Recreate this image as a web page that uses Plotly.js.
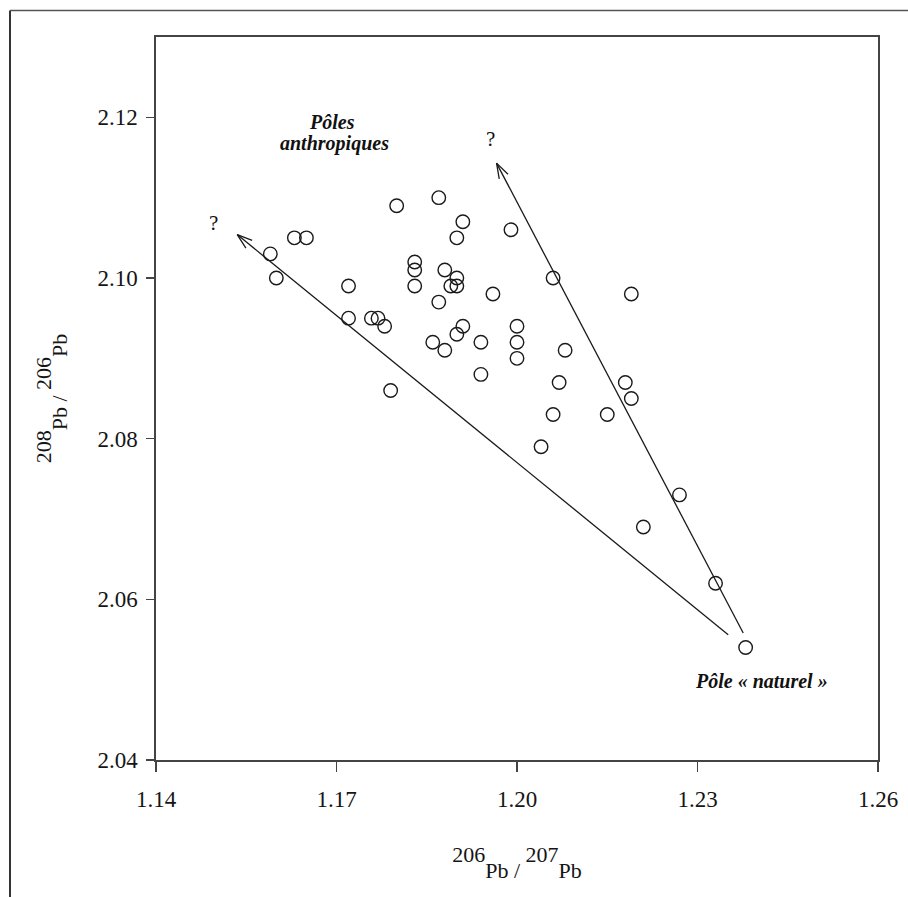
<!DOCTYPE html>
<html><head><meta charset="utf-8">
<script src="https://cdn.plot.ly/plotly-3.0.1.min.js"></script>
<style>html,body{margin:0;padding:0;background:#fff;}</style>
</head><body>
<div id="chart" style="width:908px;height:897px;"></div>
<script>
// 206Pb/207Pb (x) and 208Pb/206Pb (y) of the samples
const ratio206_207 = [1.159,1.160,1.163,1.165,1.172,1.172,1.1758,1.1769,1.178,1.179,1.180,1.183,1.183,1.183,1.186,1.187,1.187,1.188,1.188,1.189,1.190,1.190,1.190,1.190,1.191,1.191,1.194,1.194,1.196,1.199,1.200,1.200,1.200,1.204,1.206,1.206,1.207,1.208,1.215,1.218,1.219,1.219,1.221,1.227,1.233,1.238];
const ratio208_206 = [2.103,2.100,2.105,2.105,2.099,2.095,2.095,2.095,2.094,2.086,2.109,2.102,2.101,2.099,2.092,2.110,2.097,2.101,2.091,2.099,2.105,2.100,2.099,2.093,2.107,2.094,2.092,2.088,2.098,2.106,2.094,2.092,2.090,2.079,2.100,2.083,2.087,2.091,2.083,2.087,2.085,2.098,2.069,2.073,2.062,2.054];

const xTicks = [1.14,1.17,1.20,1.23,1.26];
const xTickText = ['1.14','1.17','1.20','1.23','1.26'];
const yTicks = [2.04,2.06,2.08,2.10,2.12];
const yTickText = ['2.04','2.06','2.08','2.10','2.12'];
const xRange = [1.14,1.26];
const yRange = [2.04,2.13];

// mixing arrows: from natural pole towards anthropogenic poles
const arrowTailX = [1.2351,1.2376];
const arrowTailY = [2.0556,2.0558];
const arrowHeadX = [1.1535,1.1966];
const arrowHeadY = [2.1054,2.1143];

// text labels
const boldLabels = ['Pôles','anthropiques','Pôle « naturel »'];
const boldLabelX = [1.1692,1.1696,1.2406];
const boldLabelY = [2.1194,2.1168,2.0498];
const qLabels = ['?','?'];
const qLabelX = [1.1496,1.1956];
const qLabelY = [2.1068,2.1173];

const M = {l:156, r:30, t:37, b:137};
const W = 908, H = 897;
const plotW = W - M.l - M.r, plotH = H - M.t - M.b;
const sx = plotW/(xRange[1]-xRange[0]);
const sy = plotH/(yRange[1]-yRange[0]);

const SERIF = '"Liberation Serif", "Times New Roman", Times, serif';
const ink = '#1a1a1a';
const traces = [];
// arrows (shaft + open head)
for (let i=0;i<arrowTailX.length;i++){
  const hx = arrowHeadX[i], hy = arrowHeadY[i];
  const dxp = (arrowTailX[i]-hx)*sx, dyp = (arrowTailY[i]-hy)*sy;
  const a = Math.atan2(dyp,dxp), h = 18*Math.PI/180, L = 16;
  const a1x = hx + L*Math.cos(a+h)/sx, a1y = hy + L*Math.sin(a+h)/sy;
  const a2x = hx + L*Math.cos(a-h)/sx, a2y = hy + L*Math.sin(a-h)/sy;
  traces.push({
    type:'scatter', mode:'lines',
    x:[arrowTailX[i],hx,null,a1x,hx,a2x],
    y:[arrowTailY[i],hy,null,a1y,hy,a2y],
    line:{color:ink,width:1.3}, hoverinfo:'skip', showlegend:false
  });
}
traces.push({
  type:'scatter', mode:'markers',
  x:ratio206_207, y:ratio208_206,
  marker:{symbol:'circle-open', size:13.5, color:ink, line:{width:1.4, color:ink}},
  showlegend:false
});

const annotations = [];
boldLabels.forEach((t,i)=>annotations.push({
  x:boldLabelX[i], y:boldLabelY[i], xref:'x', yref:'y', text:t, showarrow:false,
  xanchor:'center', yanchor:'middle',
  font:{family:SERIF, size:20, weight:'bold', style:'italic', color:'#111'}
}));
qLabels.forEach((t,i)=>annotations.push({
  x:qLabelX[i], y:qLabelY[i], xref:'x', yref:'y', text:t, showarrow:false,
  xanchor:'center', yanchor:'middle',
  font:{family:SERIF, size:21, color:'#111'}
}));

const s = t => '<span style="font-size:22px">'+t+'</span>';
const isoTitle = (a,b) => '<sup>'+s(a)+'</sup>'+s('Pb / ')+'<sup>'+s(b)+'</sup>'+s('Pb');

const axisCommon = {
  showgrid:false, zeroline:false, showline:true, mirror:true,
  linecolor:'#444', linewidth:1.6,
  ticks:'outside', tickcolor:'#444', tickwidth:1.3,
  tickfont:{family:SERIF, size:23, color:'#151515'},
  fixedrange:true
};

const layout = {
  width:W, height:H, autosize:false,
  margin:{l:M.l, r:M.r, t:M.t, b:M.b, pad:0},
  paper_bgcolor:'#fff', plot_bgcolor:'#fff',
  xaxis:Object.assign({}, axisCommon, {
    range:xRange, tickmode:'array', tickvals:xTicks, ticktext:xTickText, ticklen:10,
    ticklabelstandoff:8,
    title:{text:isoTitle('206','207'), font:{family:SERIF, size:38, color:'#151515'}, standoff:40}
  }),
  yaxis:Object.assign({}, axisCommon, {
    range:yRange, tickmode:'array', tickvals:yTicks, ticktext:yTickText, ticklen:8,
    ticklabelstandoff:4,
    title:{text:isoTitle('208','206'), font:{family:SERIF, size:38, color:'#151515'}, standoff:18}
  }),
  annotations:annotations,
  shapes:[
    {type:'line', xref:'paper', yref:'paper', x0:(10-M.l)/plotW, x1:(10-M.l)/plotW, y0:(H-M.b-10.5)/plotH, y1:-0.3, line:{color:'#333', width:2}},
    {type:'line', xref:'paper', yref:'paper', x0:(10-M.l)/plotW, x1:1.2, y0:(H-M.b-10.5)/plotH, y1:(H-M.b-10.5)/plotH, line:{color:'#555', width:1.6}}
  ],
  showlegend:false
};

Plotly.newPlot('chart', traces, layout, {displayModeBar:false, staticPlot:true});
</script>
</body></html>
